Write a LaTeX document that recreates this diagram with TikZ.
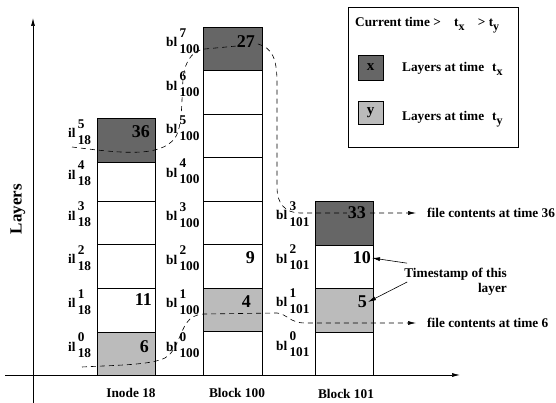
\documentclass[tikz,border=0pt]{standalone}
\usepackage{fontspec}
\setmainfont{Liberation Serif}
\usetikzlibrary{arrows.meta}
\definecolor{LayerX}{HTML}{666666}
\definecolor{LayerY}{HTML}{BBBBBB}
\newcommand{\lyr}[3]{#1\,\rlap{\raisebox{9.5pt}{#2}}\raisebox{-6.5pt}{#3}}
\newcommand{\tsub}[1]{t\raisebox{-4pt}{\fontsize{12}{12}\selectfont #1}}
\tikzset{
    txt/.style={font=\fontsize{13.3}{15}\selectfont\bfseries, inner sep=2pt},
    lbl/.style={txt, anchor=base west, inner sep=0pt},
    num/.style={font=\fontsize{18}{18}\selectfont\bfseries, anchor=east, inner sep=1pt},
    note/.style={txt, anchor=west, inner sep=0pt},
    legkey/.style={draw, minimum width=25pt, inner sep=0pt, font=\fontsize{15}{15}\selectfont\bfseries},
    axisline/.style={-{Latex[length=8pt,width=4pt]}, line width=0.7pt},
    trace/.style={dash pattern=on 5pt off 4pt, line width=0.6pt, -{Latex[length=8pt,width=4pt]}},
    ptr/.style={-{Latex[length=8pt,width=4pt]}, line width=0.6pt},
}
\begin{document}
\begin{tikzpicture}[x=1pt, y=1pt]
\useasboundingbox (0,0) rectangle (556,403);

% axes
\draw[axisline] (5,28) -- (460,28);
\draw[axisline] (33,0) -- (33,385);
\node[font=\fontsize{17}{17}\selectfont\bfseries, rotate=90] (ylab) at (18,194) {Layers};

% Inode 18
\draw[fill=LayerY] (97,28) rectangle (155,71);
\draw (97,71) rectangle (155,115);
\draw (97,115) rectangle (155,159);
\draw (97,159) rectangle (155,202);
\draw (97,202) rectangle (155,241);
\draw[fill=LayerX] (97,241) rectangle (155,285);

% Block 100
\draw (203,28) rectangle (262,71.5);
\draw[fill=LayerY] (203,71.5) rectangle (262,115);
\draw (203,115) rectangle (262,158.5);
\draw (203,158.5) rectangle (262,202);
\draw (203,202) rectangle (262,245.5);
\draw (203,245.5) rectangle (262,289);
\draw (203,289) rectangle (262,332.5);
\draw[fill=LayerX] (203,332.5) rectangle (262,376);

% Block 101
\draw (315,28) rectangle (373,71);
\draw[fill=LayerY] (315,71) rectangle (373,115);
\draw (315,115) rectangle (373,158);
\draw[fill=LayerX] (315,158) rectangle (373,202);

% legend
\draw[line width=0.6pt] (348,256) rectangle (518,396);
\node[txt, anchor=base west, inner sep=0pt] (now) at (355,376) {Current time >\quad\tsub{x}\quad> \tsub{y}};
\node[legkey, fill=LayerX, minimum height=25pt] (kx) at (370.5,335.5) {x};
\node[legkey, fill=LayerY, minimum height=23pt] (ky) at (370.5,290.5) {y};
\node[txt, anchor=base west, inner sep=0pt] (lx) at (402,331) {Layers at time\hspace{8pt}\tsub{x}};
\node[txt, anchor=base west, inner sep=0pt] (ly) at (402,282) {Layers at time\hspace{8pt}\tsub{y}};

% file contents
\node[note] (f36) at (427,190) {file contents at time 36};
\node[note] (f6) at (427,80) {file contents at time 6};
\coordinate (c36) at (72,256);
\coordinate (c6) at (82,36);
\draw[trace, shorten >=11pt] (c36) .. controls (120,250) and (160,245) .. (175,265)
    .. controls (185,280) and (180,320) .. (185,335)
    .. controls (190,350) and (198,353) .. (205,354) -- (258,359)
    .. controls (272,355) and (277,345) .. (277,320) -- (277,215)
    .. controls (277,200) and (285,190) .. (300,190) -- (f36.west);
\draw[trace, shorten >=11pt] (c6) .. controls (120,38) and (150,38) .. (165,45)
    .. controls (178,52) and (180,75) .. (190,84)
    .. controls (195,88) and (200,89) .. (205,89) -- (277,90)
    .. controls (287,89) and (290,80) .. (305,80) -- (f6.west);

% timestamps
\node[num, fill=LayerX] (n36) at (151,271) {36};
\node[num] (n11) at (153,103) {11};
\node[num, fill=LayerY] (n6) at (150,56) {6};
\node[num, fill=LayerX] (n27) at (256,361) {27};
\node[num] (n9) at (256,145) {9};
\node[num, fill=LayerY] (n4) at (252,101) {4};
\node[num, fill=LayerX] (n33) at (367,190) {33};
\node[num] (n10) at (372,145) {10};
\node[num, fill=LayerY] (n5) at (368,101) {5};

\node[txt, align=right, anchor=east] (ts) at (509,121) {Timestamp of this\\layer};
\draw[ptr] ([xshift=5pt,yshift=3pt]ts.north west) -- (n10.east);
\draw[ptr] ([xshift=5pt]ts.west) -- (n5.east);

% layer names
\node[lbl] (il0) at (68,51.5) {\lyr{il}{0}{18}};
\node[lbl] (il1) at (68,95) {\lyr{il}{1}{18}};
\node[lbl] (il2) at (68,139) {\lyr{il}{2}{18}};
\node[lbl] (il3) at (68,182.5) {\lyr{il}{3}{18}};
\node[lbl] (il4) at (68,223.5) {\lyr{il}{4}{18}};
\node[lbl] (il5) at (68,265) {\lyr{il}{5}{18}};
\node[lbl] (ba0) at (166,51.75) {\lyr{bl}{0}{100}};
\node[lbl] (ba1) at (166,95.25) {\lyr{bl}{1}{100}};
\node[lbl] (ba2) at (166,138.75) {\lyr{bl}{2}{100}};
\node[lbl] (ba3) at (166,182.25) {\lyr{bl}{3}{100}};
\node[lbl] (ba4) at (166,225.75) {\lyr{bl}{4}{100}};
\node[lbl] (ba5) at (166,269.25) {\lyr{bl}{5}{100}};
\node[lbl] (ba6) at (166,312.75) {\lyr{bl}{6}{100}};
\node[lbl] (ba7) at (166,356.25) {\lyr{bl}{7}{100}};
\node[lbl] (bb0) at (276,52.5) {\lyr{bl}{0}{101}};
\node[lbl] (bb1) at (276,96) {\lyr{bl}{1}{101}};
\node[lbl] (bb2) at (276,139.5) {\lyr{bl}{2}{101}};
\node[lbl] (bb3) at (276,183) {\lyr{bl}{3}{101}};

% columns
\node[txt, anchor=base] (inode) at (131,5) {Inode 18};
\node[txt, anchor=base] (blk100) at (237,5) {Block 100};
\node[txt, anchor=base] (blk101) at (346,4) {Block 101};
\end{tikzpicture}
\end{document}
